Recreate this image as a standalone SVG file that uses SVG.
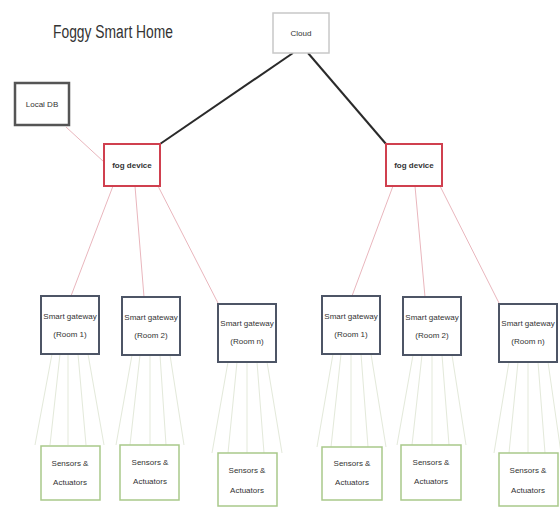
<svg xmlns="http://www.w3.org/2000/svg" width="560" height="508" viewBox="0 0 560 508">
<style>
text{font-family:"Liberation Sans",Arial,sans-serif;fill:#333;text-anchor:middle}
.t{font-size:8px}
.box{fill:#fff}
.cloud{stroke:#c8c8c8;stroke-width:1.5}
.db{stroke:#555;stroke-width:2.5}
.fog{stroke:#d0404f;stroke-width:2}
.gw{stroke:#4d5566;stroke-width:2}
.sa{stroke:#a9c98a;stroke-width:1.5}
.main{stroke:#2a2a2a;stroke-width:2;fill:none}
.pink{stroke:#e9b6bd;stroke-width:1;fill:none}
.fan{stroke:#e3e9da;stroke-width:1;fill:none}
</style>
<rect width="560" height="508" fill="#fff"/>
<text x="113" y="38" font-size="18" textLength="120" lengthAdjust="spacingAndGlyphs" fill="#444">Foggy Smart Home</text>
<g id="connectors">
<line class="main" x1="293" y1="53" x2="160" y2="144"/>
<line class="main" x1="308" y1="53" x2="386" y2="144"/>
<line class="pink" x1="66" y1="127" x2="104" y2="162"/>
<line class="pink" x1="113" y1="186" x2="71" y2="296"/>
<line class="pink" x1="135" y1="186" x2="144" y2="297"/>
<line class="pink" x1="158" y1="186" x2="219" y2="305"/>
<line class="pink" x1="393" y1="186" x2="352" y2="296"/>
<line class="pink" x1="415" y1="186" x2="425" y2="297"/>
<line class="pink" x1="440" y1="186" x2="500" y2="305"/>
<g id="fans">
<path class="fan" d="M52 354L35 445M60 354L50 445M68 354L68 445M78 354L86 445M88 354L104 445"/>
<path class="fan" d="M132 355L116 445M140 355L130 445M150 355L150 445M160 355L166 445M170 355L184 445"/>
<path class="fan" d="M228 362L212 453M237 362L228 453M247 362L247 453M257 362L264 453M267 362L282 453"/>
<path class="fan" d="M333 354L317 447M341 354L331 447M351 354L351 447M361 354L368 447M371 354L386 447"/>
<path class="fan" d="M413 355L397 445M422 355L412 445M432 355L432 445M442 355L449 445M452 355L466 445"/>
<path class="fan" d="M509 362L494 453M518 362L509 453M528 362L528 453M538 362L545 453M548 362L561 453"/>
</g>
</g>
<g id="cloud"><rect class="box cloud" x="273" y="13" width="56" height="40"/><text class="t" x="301" y="36">Cloud</text></g>
<g id="localdb"><rect class="box db" x="15" y="83" width="54" height="42"/><text class="t" x="42" y="107">Local DB</text></g>
<g id="fog1"><rect class="box fog" x="104" y="144" width="56" height="42"/><text class="t" x="132" y="168" font-weight="bold">fog device</text></g>
<g id="fog2"><rect class="box fog" x="386" y="144" width="56" height="42"/><text class="t" x="414" y="168" font-weight="bold">fog device</text></g>
<g id="gw1"><rect class="box gw" x="41" y="296" width="58" height="58"/><text class="t" x="70" y="319">Smart gateway</text><text class="t" x="70" y="337">(Room 1)</text></g>
<g id="gw2"><rect class="box gw" x="122" y="297" width="58" height="58"/><text class="t" x="151" y="320">Smart gateway</text><text class="t" x="151" y="338">(Room 2)</text></g>
<g id="gw3"><rect class="box gw" x="218" y="304" width="58" height="58"/><text class="t" x="247" y="326">Smart gateway</text><text class="t" x="247" y="344">(Room n)</text></g>
<g id="gw4"><rect class="box gw" x="322" y="296" width="58" height="58"/><text class="t" x="351" y="319">Smart gateway</text><text class="t" x="351" y="337">(Room 1)</text></g>
<g id="gw5"><rect class="box gw" x="403" y="297" width="58" height="58"/><text class="t" x="432" y="320">Smart gateway</text><text class="t" x="432" y="338">(Room 2)</text></g>
<g id="gw6"><rect class="box gw" x="499" y="304" width="58" height="58"/><text class="t" x="528" y="326">Smart gateway</text><text class="t" x="528" y="344">(Room n)</text></g>
<g id="sa1"><rect class="box sa" x="41" y="446" width="59" height="54"/><text class="t" x="70" y="466">Sensors &amp;</text><text class="t" x="70" y="485">Actuators</text></g>
<g id="sa2"><rect class="box sa" x="120" y="445" width="59" height="55"/><text class="t" x="150" y="465">Sensors &amp;</text><text class="t" x="150" y="484">Actuators</text></g>
<g id="sa3"><rect class="box sa" x="218" y="453" width="59" height="53"/><text class="t" x="247" y="473">Sensors &amp;</text><text class="t" x="247" y="493">Actuators</text></g>
<g id="sa4"><rect class="box sa" x="322" y="447" width="60" height="53"/><text class="t" x="352" y="466">Sensors &amp;</text><text class="t" x="352" y="485">Actuators</text></g>
<g id="sa5"><rect class="box sa" x="401" y="445" width="60" height="55"/><text class="t" x="431" y="465">Sensors &amp;</text><text class="t" x="431" y="484">Actuators</text></g>
<g id="sa6"><rect class="box sa" x="499" y="453" width="59" height="53"/><text class="t" x="528" y="473">Sensors &amp;</text><text class="t" x="528" y="493">Actuators</text></g>
</svg>
